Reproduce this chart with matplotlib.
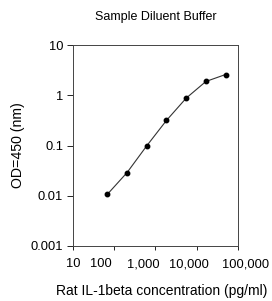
import matplotlib
matplotlib.use('Agg')
import matplotlib.pyplot as plt
import matplotlib.transforms as mtransforms
from matplotlib.ticker import FixedLocator, NullLocator

plt.rcParams['font.family'] = ['Liberation Sans', 'DejaVu Sans']

# standard curve, 3-fold dilutions
conc = [68.6, 205.8, 617, 1852, 5556, 16667, 50000]
od = [0.0107, 0.029, 0.099, 0.317, 0.88, 1.89, 2.6]

x_ticks = [10, 100, 1000, 10000, 100000]
x_labels = ['10', '100', '1,000', '10,000', '100,000']
y_ticks = [0.001, 0.01, 0.1, 1, 10]
y_labels = ['0.001', '0.01', '0.1', '1', '10']

fig = plt.figure(figsize=(2.72, 3.01), dpi=100)
ax = fig.add_axes([0.268, 0.183, 0.607, 0.667])

ax.plot(conc, od, color='#333333', linewidth=0.8, marker='o', markersize=3.2,
        markerfacecolor='black', markeredgecolor='black')

ax.set_xscale('log')
ax.set_yscale('log')
ax.set_xlim(10, 100000)
ax.set_ylim(0.001, 10)

ax.xaxis.set_major_locator(FixedLocator(x_ticks))
ax.xaxis.set_minor_locator(NullLocator())
ax.yaxis.set_major_locator(FixedLocator(y_ticks))
ax.yaxis.set_minor_locator(NullLocator())
ax.set_xticklabels(x_labels)
ax.set_yticklabels(y_labels)

ax.tick_params(axis='x', labelsize=9.3, length=3, width=0.6, pad=6)
ax.tick_params(axis='y', labelsize=9.3, length=4, width=0.6, pad=3)
for sp in ax.spines.values():
    sp.set_linewidth(0.7)
    sp.set_color('#444444')

# excel-style spreading of crowded x labels (pixel shifts)
shifts = [0, -13, -12.5, -7.5, 8]
for lab, dx in zip(ax.get_xticklabels(), shifts):
    lab.set_transform(lab.get_transform() +
                      mtransforms.ScaledTranslation(dx / 100, 0, fig.dpi_scale_trans))

ax.set_title('Sample Diluent Buffer', fontsize=9, pad=18)
ax.set_xlabel('Rat IL-1beta concentration (pg/ml)', fontsize=10)
ax.xaxis.set_label_coords(0.535, -0.192)
ax.set_ylabel('OD=450 (nm)', fontsize=10.2, labelpad=4)

fig.savefig('out.png', dpi=100)
